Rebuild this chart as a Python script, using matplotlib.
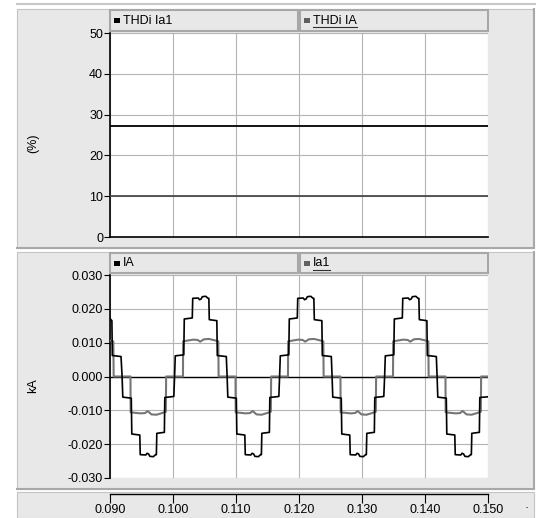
import numpy as np
import matplotlib
matplotlib.use("Agg")
import matplotlib.pyplot as plt
from matplotlib.patches import Rectangle
from matplotlib.lines import Line2D

plt.rcParams['font.family'] = ['Liberation Sans Narrow', 'Liberation Sans', 'DejaVu Sans']
plt.rcParams['axes.unicode_minus'] = False

# ---- data (times in ms) ----
thd_time = [90.0, 150.0]
thd_ia1 = [27.2, 27.2]
thd_IA = [10.0, 10.0]

ia_time = [
    90.00, 90.30, 90.37, 91.75,
    91.92, 92.03, 93.38, 93.46, 94.73, 94.80, 95.68, 95.88, 96.13, 96.33, 96.88, 97.23, 97.36, 97.43, 98.63, 98.70, 100.13,
    100.25, 100.36, 101.71, 101.79, 103.06, 103.13, 104.01, 104.21, 104.46, 104.66, 105.21, 105.56, 105.69, 105.76, 106.96, 107.03, 108.46,
    108.59, 108.70, 110.05, 110.13, 111.40, 111.47, 112.35, 112.55, 112.80, 113.00, 113.55, 113.90, 114.03, 114.10, 115.30, 115.37, 116.80,
    116.92, 117.03, 118.38, 118.46, 119.73, 119.80, 120.68, 120.88, 121.13, 121.33, 121.88, 122.23, 122.36, 122.43, 123.63, 123.70, 125.13,
    125.25, 125.36, 126.71, 126.79, 128.06, 128.13, 129.01, 129.21, 129.46, 129.66, 130.21, 130.56, 130.69, 130.76, 131.96, 132.03, 133.46,
    133.59, 133.70, 135.05, 135.13, 136.40, 136.47, 137.35, 137.55, 137.80, 138.00, 138.55, 138.90, 139.03, 139.10, 140.30, 140.37, 141.80,
    141.92, 142.03, 143.38, 143.46, 144.73, 144.80, 145.68, 145.88, 146.13, 146.33, 146.88, 147.23, 147.36, 147.43, 148.63, 148.70, 150.00,
]
ia_val = [
    0.0171, 0.0165, 0.0062, 0.0059,
    0.0, -0.0061, -0.0064, -0.0170, -0.0173, -0.0231, -0.0232, -0.0227, -0.0229, -0.0236, -0.0237, -0.0231, -0.0231, -0.0168, -0.0165, -0.0062, -0.0059,
    0.0, 0.0061, 0.0064, 0.0170, 0.0173, 0.0231, 0.0232, 0.0227, 0.0229, 0.0236, 0.0237, 0.0231, 0.0231, 0.0168, 0.0165, 0.0062, 0.0059,
    0.0, -0.0061, -0.0064, -0.0170, -0.0173, -0.0231, -0.0232, -0.0227, -0.0229, -0.0236, -0.0237, -0.0231, -0.0231, -0.0168, -0.0165, -0.0062, -0.0059,
    0.0, 0.0061, 0.0064, 0.0170, 0.0173, 0.0231, 0.0232, 0.0227, 0.0229, 0.0236, 0.0237, 0.0231, 0.0231, 0.0168, 0.0165, 0.0062, 0.0059,
    0.0, -0.0061, -0.0064, -0.0170, -0.0173, -0.0231, -0.0232, -0.0227, -0.0229, -0.0236, -0.0237, -0.0231, -0.0231, -0.0168, -0.0165, -0.0062, -0.0059,
    0.0, 0.0061, 0.0064, 0.0170, 0.0173, 0.0231, 0.0232, 0.0227, 0.0229, 0.0236, 0.0237, 0.0231, 0.0231, 0.0168, 0.0165, 0.0062, 0.0059,
    0.0, -0.0061, -0.0064, -0.0170, -0.0173, -0.0231, -0.0232, -0.0227, -0.0229, -0.0236, -0.0237, -0.0231, -0.0231, -0.0168, -0.0165, -0.0062, -0.0060,
]

ia1_time = [
    90.00, 90.53, 90.58,
    93.25, 93.28, 94.88, 95.58, 95.98, 96.58, 97.38, 98.28, 98.86, 98.91,
    101.58, 101.61, 103.21, 103.91, 104.31, 104.91, 105.71, 106.61, 107.19, 107.24,
    109.92, 109.95, 111.55, 112.25, 112.65, 113.25, 114.05, 114.95, 115.53, 115.58,
    118.25, 118.28, 119.88, 120.58, 120.98, 121.58, 122.38, 123.28, 123.86, 123.91,
    126.58, 126.61, 128.21, 128.91, 129.31, 129.91, 130.71, 131.61, 132.19, 132.24,
    134.92, 134.95, 136.55, 137.25, 137.65, 138.25, 139.05, 139.95, 140.53, 140.58,
    143.25, 143.28, 144.88, 145.58, 145.98, 146.58, 147.38, 148.28, 148.86, 148.91,
    150.00,
]
ia1_val = [
    0.0106, 0.0104, 0.0,
    0.0, -0.0106, -0.0109, -0.0108, -0.0102, -0.0112, -0.0113, -0.0108, -0.0104, 0.0,
    0.0, 0.0104, 0.0109, 0.0108, 0.0103, 0.0110, 0.0111, 0.0107, 0.0104, 0.0,
    0.0, -0.0106, -0.0109, -0.0108, -0.0102, -0.0112, -0.0113, -0.0108, -0.0104, 0.0,
    0.0, 0.0104, 0.0109, 0.0108, 0.0103, 0.0110, 0.0111, 0.0107, 0.0104, 0.0,
    0.0, -0.0106, -0.0109, -0.0108, -0.0102, -0.0112, -0.0113, -0.0108, -0.0104, 0.0,
    0.0, 0.0104, 0.0109, 0.0108, 0.0103, 0.0110, 0.0111, 0.0107, 0.0104, 0.0,
    0.0, -0.0106, -0.0109, -0.0108, -0.0102, -0.0112, -0.0113, -0.0108, -0.0104, 0.0,
    0.0,
]

x_ticks = [0.090, 0.100, 0.110, 0.120, 0.130, 0.140, 0.150]
thd_ticks = [0, 10, 20, 30, 40, 50]
ka_ticks = [-0.030, -0.020, -0.010, 0.000, 0.010, 0.020, 0.030]

W, H = 542, 518
fig = plt.figure(figsize=(W / 100, H / 100), dpi=100)
fig.patch.set_facecolor('white')


def fx(x):
    return x / W


def fy(y):
    return 1 - y / H


def rect(x0, y0, x1, y1, face, edge='none', lw=0, z=0):
    fig.add_artist(Rectangle((fx(x0), fy(y1)), (x1 - x0) / W, (y1 - y0) / H,
                             transform=fig.transFigure, facecolor=face,
                             edgecolor=edge, linewidth=lw, zorder=z))


def hline(x0, x1, y, color, lw, z=1):
    fig.add_artist(Line2D([fx(x0), fx(x1)], [fy(y), fy(y)], transform=fig.transFigure,
                          color=color, linewidth=lw, zorder=z))


def vline(x, y0, y1, color, lw, z=1):
    fig.add_artist(Line2D([fx(x), fx(x)], [fy(y0), fy(y1)], transform=fig.transFigure,
                          color=color, linewidth=lw, zorder=z))


# grey panels behind the plots
panel_face = '#e8e8e8'
hline(17, 535, 4, '#c8c8c8', 1.5)
for (y0, y1) in [(9, 248), (252, 489)]:
    rect(17, y0, 533, y1, panel_face, '#c4c4c4', 0.8)
    hline(17, 534, y1, '#a8a8a8', 1.5)
    vline(533.5, y0, y1, '#a8a8a8', 1.5)
rect(17, 492, 534, 518, panel_face, '#c4c4c4', 0.8)

grid_kw = dict(color='#b4b4b4', linewidth=0.8)

# ---- top axes: THD ----
ax1 = fig.add_axes([fx(110), fy(237), (488 - 110) / W, (237 - 33) / H])
ax1.plot(np.array(thd_time) / 1000, thd_ia1, color='black', linewidth=1.3, zorder=3)
ax1.plot(np.array(thd_time) / 1000, thd_IA, color='#4a4a4a', linewidth=1.3, zorder=3)
ax1.set_xlim(0.090, 0.150)
ax1.set_ylim(0, 50)
ax1.set_yticks(thd_ticks)
ax1.set_xticks(x_ticks)
ax1.tick_params(axis='x', length=0, labelbottom=False)
ax1.tick_params(axis='y', length=4, width=0.8, pad=1, labelsize=9)
ax1.grid(True, **grid_kw)
for s in ['top', 'right']:
    ax1.spines[s].set_visible(False)
for s in ['left', 'bottom']:
    ax1.spines[s].set_color('black')
    ax1.spines[s].set_linewidth(1.2)

# ---- bottom axes: currents ----
ax2 = fig.add_axes([fx(110), fy(478), (488 - 110) / W, (478 - 275) / H])
ax2.axhline(0, color='black', linewidth=1.0, zorder=2)
ax2.plot(np.array(ia1_time) / 1000, ia1_val, color='#767676', linewidth=1.5, zorder=3)
ax2.plot(np.array(ia_time) / 1000, ia_val, color='black', linewidth=1.2, zorder=4)
ax2.set_xlim(0.090, 0.150)
ax2.set_ylim(-0.030, 0.030)
ax2.set_yticks(ka_ticks)
ax2.set_yticklabels(['%.3f' % v for v in ka_ticks])
ax2.set_xticks(x_ticks)
ax2.tick_params(axis='x', length=0, labelbottom=False)
ax2.tick_params(axis='y', length=4, width=0.8, pad=1, labelsize=9)
ax2.grid(True, **grid_kw)
for s in ['top', 'right', 'bottom']:
    ax2.spines[s].set_visible(False)
ax2.spines['left'].set_color('black')
ax2.spines['left'].set_linewidth(1.2)

# ---- separate time axis strip ----
ax3 = fig.add_axes([fx(110), fy(494), (488 - 110) / W, 0.0001])
ax3.set_xlim(0.090, 0.150)
ax3.set_xticks(x_ticks)
ax3.set_xticklabels(['%.3f' % v for v in x_ticks])
ax3.set_yticks([])
ax3.patch.set_visible(False)
for s in ['top', 'left', 'right']:
    ax3.spines[s].set_visible(False)
ax3.spines['bottom'].set_linewidth(1.0)
ax3.tick_params(axis='x', direction='out', length=6.5, width=0.8, pad=1, labelsize=9)

# axis titles
fig.text(fx(33), fy(143), '(%)', rotation=90, ha='center', va='center', fontsize=9)
fig.text(fx(33), fy(386), 'kA', rotation=90, ha='center', va='center', fontsize=9)
fig.text(fx(527), fy(508), '·', ha='center', va='center', fontsize=9)

# legend strips
legend_rows = [
    (10, 31, [('THDi Ia1', 'black', False), ('THDi IA', '#606060', True)]),
    (253, 273, [('IA', 'black', False), ('Ia1', '#606060', True)]),
]
texts = []
for (y0, y1, items) in legend_rows:
    slots = [(110, 298), (300, 488)]
    for (x0, x1), (label, col, under) in zip(slots, items):
        rect(x0, y0, x1, y1, panel_face, '#a8a8a8', 1.5, z=5)
        ym = (y0 + y1) / 2
        rect(x0 + 4, ym - 2.5, x0 + 10, ym + 2.5, col, z=6)
        t = fig.text(fx(x0 + 13), fy(ym), label, ha='left', va='center',
                     fontsize=9, zorder=7)
        texts.append((t, under, ym))

fig.canvas.draw()
for t, under, ym in texts:
    if under:
        bb = t.get_window_extent()
        hline(bb.x0, bb.x1, ym + 6.5, '#303030', 0.8, z=7)

fig.savefig('out.png', dpi=100)
